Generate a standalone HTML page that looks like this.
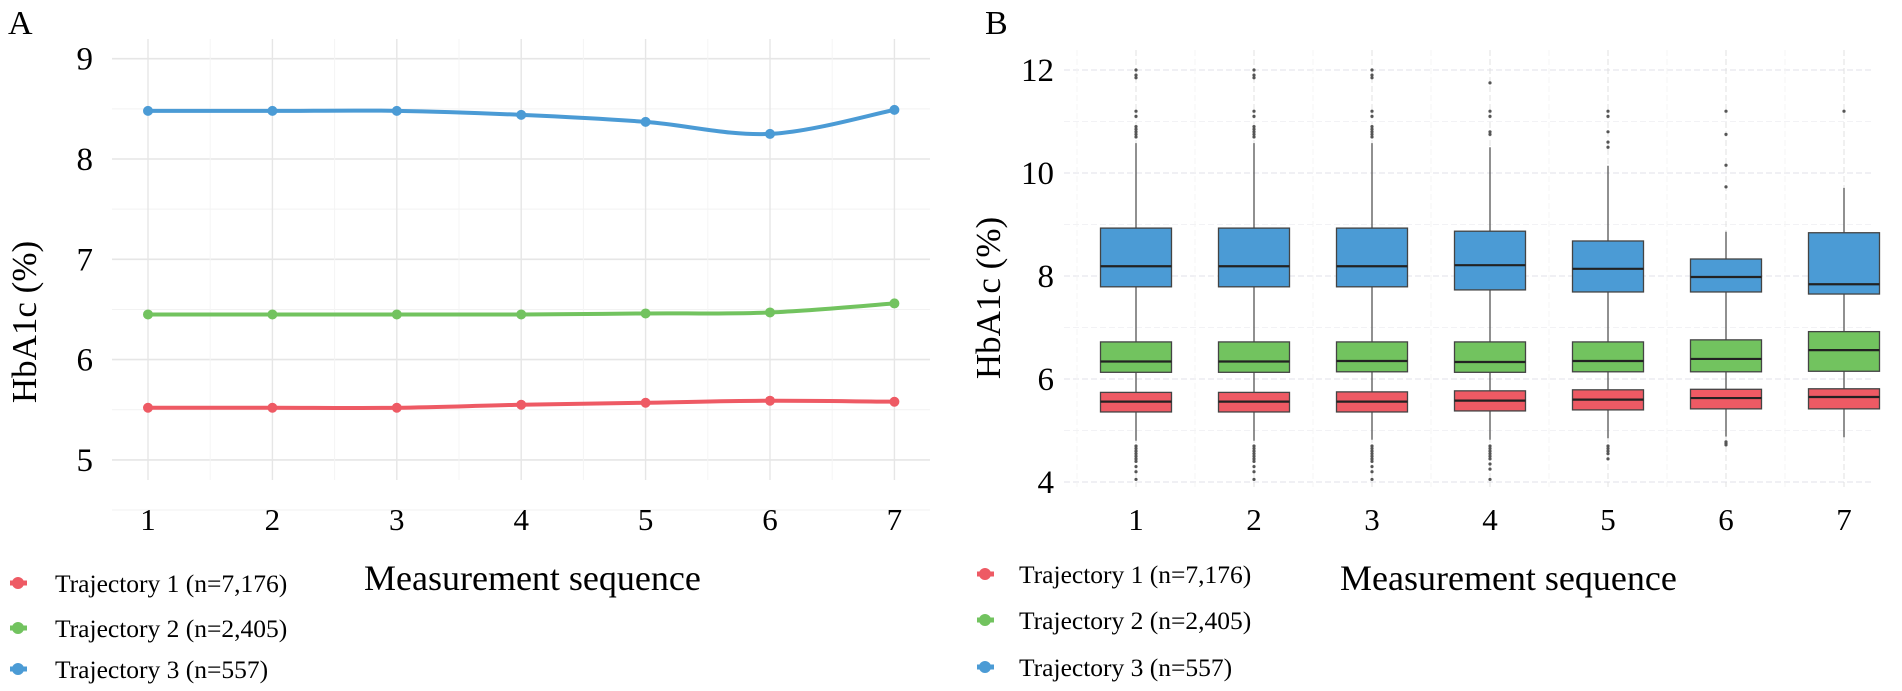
<!DOCTYPE html>
<html><head><meta charset="utf-8"><style>
html,body{margin:0;padding:0;background:#fff;}
svg{display:block;font-family:"Liberation Serif",serif;}
</style></head><body>
<svg id="root" width="1902" height="691" viewBox="0 0 1902 691" xmlns="http://www.w3.org/2000/svg">
<g id="A"></g>
<g id="B"></g>
</svg>
<script>
const categories = [1,2,3,4,5,6,7];
const seriesNames = ["Trajectory 1 (n=7,176)","Trajectory 2 (n=2,405)","Trajectory 3 (n=557)"];
const colors = ["#ee5a64","#72c35f","#4b9bd5"];
// Panel A means
const meanT1 = [5.52,5.52,5.52,5.55,5.57,5.59,5.58];
const meanT2 = [6.45,6.45,6.45,6.45,6.46,6.47,6.56];
const meanT3 = [8.48,8.48,8.48,8.44,8.37,8.25,8.49];
const yTicksA = [5,6,7,8,9];
// Panel B boxes: [lowerWhisker, q1, median, q3, upperWhisker]
const boxT1 = [[4.8,5.36,5.56,5.74,6.1],[4.8,5.36,5.56,5.74,6.1],[4.82,5.36,5.56,5.75,6.1],[4.82,5.38,5.58,5.77,6.1],[4.85,5.4,5.6,5.79,6.1],[4.88,5.42,5.63,5.8,6.1],[4.87,5.42,5.65,5.81,6.1]];
const boxT2 = [[5.3,6.13,6.34,6.72,7.4],[5.3,6.13,6.34,6.72,7.4],[5.3,6.14,6.35,6.72,7.4],[5.3,6.13,6.33,6.72,7.4],[5.3,6.14,6.35,6.72,7.4],[5.3,6.14,6.39,6.76,7.4],[5.3,6.15,6.56,6.92,7.4]];
const boxT3 = [[6.8,7.79,8.19,8.93,10.58],[6.8,7.79,8.19,8.93,10.58],[6.8,7.79,8.19,8.93,10.58],[6.8,7.73,8.21,8.87,10.5],[6.8,7.69,8.14,8.68,10.14],[6.8,7.69,7.98,8.33,8.86],[6.8,7.65,7.84,8.84,9.71]];
const outHigh = [[12,11.9,11.85,11.2,11.1,10.9,10.85,10.8,10.75,10.7],[12,11.9,11.85,11.2,11.1,10.9,10.85,10.8,10.75,10.7],[12,11.9,11.85,11.2,11.1,10.9,10.85,10.8,10.75,10.7],[11.75,11.2,11.1,10.8,10.75],[11.2,11.1,10.8,10.6,10.5],[11.2,10.75,10.15,9.73],[11.2]];
const outLow = [[4.7,4.65,4.6,4.55,4.5,4.45,4.4,4.3,4.2,4.05],[4.7,4.65,4.6,4.55,4.5,4.45,4.4,4.3,4.2,4.05],[4.7,4.65,4.6,4.55,4.5,4.45,4.4,4.3,4.2,4.05],[4.7,4.65,4.6,4.55,4.5,4.45,4.35,4.25,4.05],[4.7,4.65,4.6,4.55,4.45],[4.78,4.75,4.72],[]];
const yTicksB = [4,6,8,10,12];

const NS="http://www.w3.org/2000/svg";
function mk(parent,tag,attrs,text){const e=document.createElementNS(NS,tag);for(const k in attrs)e.setAttribute(k,attrs[k]);if(text!==undefined)e.textContent=text;parent.appendChild(e);return e;}

// ---------- Panel A ----------
const A=document.getElementById('A');
const xA=c=>148+(c-1)*124.4;
const yA=v=>159-(v-8)*100.3;
let t=mk(A,'text',{x:8,y:34,'font-size':34},'A');

for(let v=4.5;v<=9;v+=0.5){const l=mk(A,'line',{x1:112,x2:930,y1:yA(v),y2:yA(v),stroke:v%1===0?'#e6e6e6':'#f2f2f2','stroke-width':v%1===0?1.6:1});
}
for(let c=1;c<=7;c+=0.5){const l=mk(A,'line',{x1:xA(c),x2:xA(c),y1:39,y2:480,stroke:c%1===0?'#e6e6e6':'#f4f4f4','stroke-width':c%1===0?1.4:1});
}
yTicksA.forEach(v=>{const e=mk(A,'text',{x:93,y:yA(v)+11,'font-size':33,'text-anchor':'end'},String(v));
});
categories.forEach(c=>{const e=mk(A,'text',{x:xA(c),y:530,'font-size':31,'text-anchor':'middle'},String(c));
});
t=mk(A,'text',{x:0,y:0,'font-size':35,'text-anchor':'middle',transform:'translate(36,322) rotate(-90)'},'HbA1c (%)');

t=mk(A,'text',{x:364,y:590,'font-size':36},'Measurement sequence');

function smooth(pts){let d=`M${pts[0][0]},${pts[0][1]}`;for(let i=0;i<pts.length-1;i++){const p0=pts[Math.max(0,i-1)],p1=pts[i],p2=pts[i+1],p3=pts[Math.min(pts.length-1,i+2)];
d+=` C${p1[0]+(p2[0]-p0[0])/6},${p1[1]+(p2[1]-p0[1])/6} ${p2[0]-(p3[0]-p1[0])/6},${p2[1]-(p3[1]-p1[1])/6} ${p2[0]},${p2[1]}`;}return d;}
[meanT1,meanT2,meanT3].forEach((s,i)=>{const pts=s.map((v,j)=>[xA(categories[j]),yA(v)]);
const p=mk(A,'path',{d:smooth(pts),fill:'none',stroke:colors[i],'stroke-width':4});

pts.forEach(q=>{const c=mk(A,'circle',{cx:q[0],cy:q[1],r:5,fill:colors[i]});
});});
const legA=[583,628,669];
seriesNames.forEach((n,i)=>{const g=mk(A,'g',{});

mk(g,'line',{x1:10,x2:27,y1:legA[i],y2:legA[i],stroke:colors[i],'stroke-width':5});
mk(g,'circle',{cx:18,cy:legA[i],r:6,fill:colors[i]});
mk(g,'text',{x:55,y:legA[i]+9,'font-size':25.5},n);});

// ---------- Panel B ----------
const B=document.getElementById('B');
const xB=c=>1136+(c-1)*118;
const yB=v=>276-(v-8)*51.5;
t=mk(B,'text',{x:985,y:34,'font-size':34},'B');

for(let v=4;v<=12;v+=1){const l=mk(B,'line',{x1:1064,x2:1874,y1:yB(v),y2:yB(v),stroke:v%2===0?'#e2e2ea':'#f2f2f5','stroke-width':1,'stroke-dasharray':'6,3'});
}
for(let c=0.5;c<=7.5;c+=0.5){const l=mk(B,'line',{x1:xB(c),x2:xB(c),y1:50,y2:487,stroke:c%1===0?'#e0e0e0':'#f4f4f4','stroke-width':1,'stroke-dasharray':'6,3'});
}
yTicksB.forEach(v=>{const e=mk(B,'text',{x:1054,y:yB(v)+11,'font-size':33,'text-anchor':'end'},String(v));
});
categories.forEach(c=>{const e=mk(B,'text',{x:xB(c),y:530,'font-size':31,'text-anchor':'middle'},String(c));
});
t=mk(B,'text',{x:0,y:0,'font-size':35,'text-anchor':'middle',transform:'translate(1000,298) rotate(-90)'},'HbA1c (%)');

t=mk(B,'text',{x:1340,y:590,'font-size':36},'Measurement sequence');

categories.forEach((c,j)=>{const x=xB(c);
const w=mk(B,'line',{x1:x,x2:x,y1:yB(boxT1[j][0]),y2:yB(boxT3[j][4]),stroke:'#555','stroke-width':1.3});

outHigh[j].concat(outLow[j]).forEach(v=>{const o=mk(B,'circle',{cx:x,cy:yB(v),r:1.6,fill:'#555'});
});
[boxT1,boxT2,boxT3].forEach((bx,i)=>{const b=bx[j];
const r=mk(B,'rect',{x:x-35.5,y:yB(b[3]),width:71,height:yB(b[1])-yB(b[3]),fill:colors[i],stroke:'#444','stroke-width':1.3});

const m=mk(B,'line',{x1:x-35.5,x2:x+35.5,y1:yB(b[2]),y2:yB(b[2]),stroke:'#222','stroke-width':2.2});
});});
const legB=[574,620,667];
seriesNames.forEach((n,i)=>{const g=mk(B,'g',{});

mk(g,'line',{x1:977,x2:994,y1:legB[i],y2:legB[i],stroke:colors[i],'stroke-width':5});
mk(g,'circle',{cx:985,cy:legB[i],r:6,fill:colors[i]});
mk(g,'text',{x:1019,y:legB[i]+9,'font-size':25.5},n);});
</script>
</body></html>
